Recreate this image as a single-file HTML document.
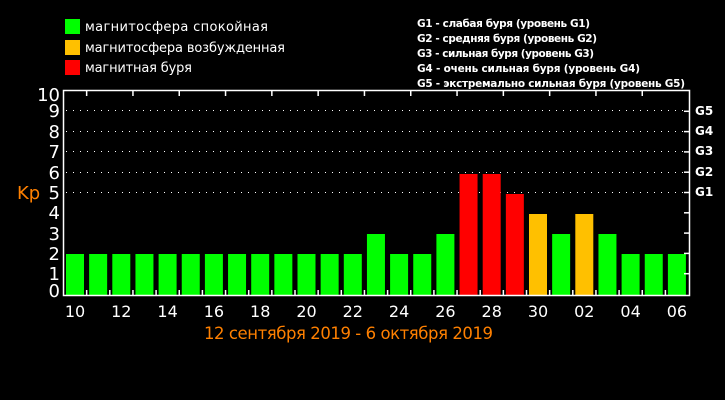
<!DOCTYPE html>
<html><head><meta charset="utf-8"><style>
html,body{margin:0;padding:0;background:#000;}
svg{display:block;font-family:"DejaVu Sans","Liberation Sans",sans-serif;}
</style></head><body>
<svg width="725" height="400" viewBox="0 0 725 400" xmlns="http://www.w3.org/2000/svg">
<rect width="725" height="400" fill="#000"/>
<rect x="65" y="19" width="15" height="15" fill="#00ff00"/>
<rect x="65" y="40" width="15" height="15" fill="#ffc000"/>
<rect x="65" y="60" width="15" height="15" fill="#ff0000"/>
<g fill="#fff" font-size="13">
<text x="85" y="31" textLength="183">магнитосфера спокойная</text>
<text x="85" y="52" textLength="200">магнитосфера возбужденная</text>
<text x="85" y="72" textLength="107">магнитная буря</text>
</g>
<g fill="#fff" font-size="10.5" font-weight="bold">
<text x="417" y="27" textLength="173">G1 - слабая буря (уровень G1)</text>
<text x="417" y="42" textLength="180">G2 - средняя буря (уровень G2)</text>
<text x="417" y="57" textLength="177">G3 - сильная буря (уровень G3)</text>
<text x="417" y="72" textLength="223">G4 - очень сильная буря (уровень G4)</text>
<text x="417" y="87" textLength="268">G5 - экстремально сильная буря (уровень G5)</text>
</g>
<g stroke="#fff" stroke-width="1" stroke-dasharray="1,6">
<line x1="66" y1="110.5" x2="688" y2="110.5"/>
<line x1="66" y1="131.5" x2="688" y2="131.5"/>
<line x1="66" y1="151.5" x2="688" y2="151.5"/>
<line x1="66" y1="172.5" x2="688" y2="172.5"/>
<line x1="66" y1="192.5" x2="688" y2="192.5"/>
</g>
<g id="bars"></g>
<rect x="63.5" y="90.5" width="626" height="205" fill="none" stroke="#fff" stroke-width="1.5"/>
<g id="ticks" stroke="#fff" stroke-width="1.5"></g>
<g fill="#fff" font-size="18" text-anchor="end">
<text x="60" y="101">10</text><text x="60" y="117">9</text><text x="60" y="138">8</text>
<text x="60" y="158">7</text><text x="60" y="179">6</text><text x="60" y="199">5</text>
<text x="60" y="219">4</text><text x="60" y="240">3</text><text x="60" y="260">2</text>
<text x="60" y="280">1</text><text x="60" y="297">0</text>
</g>
<text x="17" y="199" fill="#ff8000" font-size="18">Kp</text>
<g fill="#fff" font-size="12" font-weight="bold">
<text x="695" y="115">G5</text><text x="695" y="135">G4</text><text x="695" y="155">G3</text>
<text x="695" y="176">G2</text><text x="695" y="196">G1</text>
</g>
<g id="xl" fill="#fff" font-size="16" text-anchor="middle"></g>
<text x="204" y="339" fill="#ff8000" font-size="16.5" textLength="289">12 сентября 2019 - 6 октября 2019</text>
<script>
var v=[2,2,2,2,2,2,2,2,2,2,2,2,2,3,2,2,3,6,6,5,4,3,4,3,2,2,2];
var c=[0,0,0,0,0,0,0,0,0,0,0,0,0,0,0,0,0,2,2,2,1,0,1,0,0,0,0];
var col=["#00ff00","#ffc000","#ff0000"];
var ns="http://www.w3.org/2000/svg",b=document.getElementById("bars"),t=document.getElementById("ticks"),xl=document.getElementById("xl");
var lab=["10","12","14","16","18","20","22","24","26","28","30","02","04","06"];
var s=23.15;
for(var i=0;i<27;i++){var r=document.createElementNS(ns,"rect");var x=66+i*s;
r.setAttribute("x",x);r.setAttribute("width",18);r.setAttribute("y",294-v[i]*20);r.setAttribute("height",v[i]*20+1);r.setAttribute("fill",col[c[i]]);b.appendChild(r);
if(i%2==0){var tx=document.createElementNS(ns,"text");tx.setAttribute("x",x+9);tx.setAttribute("y",317);tx.textContent=lab[i/2];xl.appendChild(tx);}
if(i>0){var bx=63.5+i*s;var l=document.createElementNS(ns,"line");l.setAttribute("x1",bx);l.setAttribute("x2",bx);l.setAttribute("y1",295);l.setAttribute("y2",290);t.appendChild(l);
if(i%2==1){var l2=document.createElementNS(ns,"line");l2.setAttribute("x1",bx);l2.setAttribute("x2",bx);l2.setAttribute("y1",91);l2.setAttribute("y2",96);t.appendChild(l2);}}}
for(var k=1;k<10;k++){var y=294-k*20.3;var l=document.createElementNS(ns,"line");l.setAttribute("x1",684);l.setAttribute("x2",689);l.setAttribute("y1",y);l.setAttribute("y2",y);t.appendChild(l);}
</script>
</svg>
</body></html>
